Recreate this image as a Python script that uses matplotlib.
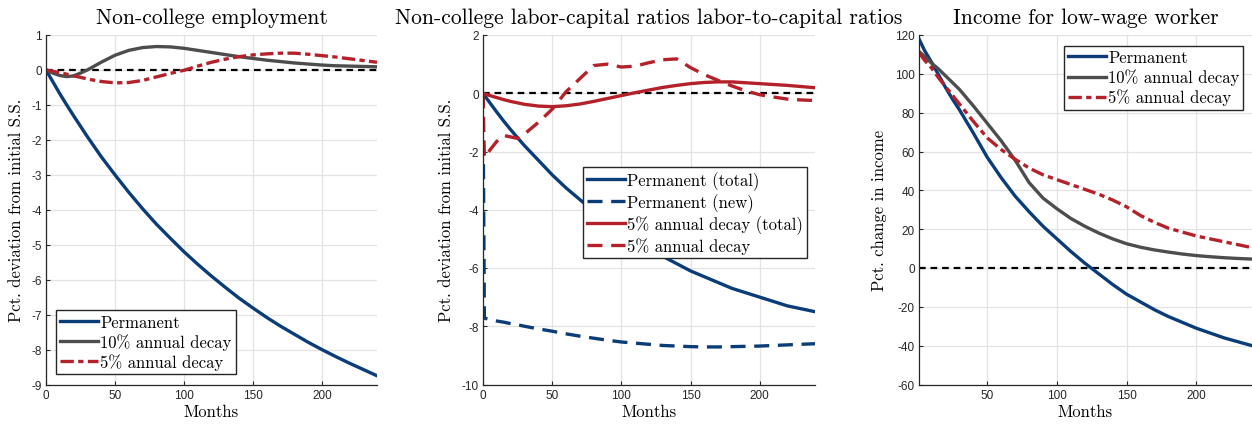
import matplotlib
matplotlib.use("Agg")
import matplotlib.pyplot as plt
import numpy as np

# ---------------- data ----------------
months = [0, 1, 5, 10, 15, 20, 25, 30, 40, 50, 60, 70, 80, 90, 100, 110, 120,
          130, 140, 150, 160, 170, 180, 190, 200, 210, 220, 230, 240]

# Panel 1: Non-college employment
emp_permanent = [0, -0.07, -0.34, -0.68, -1.0, -1.31, -1.61, -1.91, -2.48, -3.0, -3.5,
                 -3.97, -4.41, -4.81, -5.2, -5.56, -5.9, -6.22, -6.53, -6.81, -7.08,
                 -7.33, -7.56, -7.79, -8.0, -8.2, -8.39, -8.57, -8.75]
emp_decay10 = [0, -0.02, -0.09, -0.16, -0.19, -0.17, -0.09, 0.0, 0.22, 0.42, 0.56,
               0.64, 0.67, 0.66, 0.62, 0.56, 0.5, 0.44, 0.38, 0.33, 0.28, 0.24,
               0.2, 0.17, 0.14, 0.12, 0.11, 0.1, 0.09]
emp_decay5 = [0, -0.01, -0.04, -0.08, -0.12, -0.17, -0.21, -0.26, -0.33, -0.37, -0.36,
              -0.3, -0.2, -0.1, -0.01, 0.11, 0.22, 0.31, 0.38, 0.43, 0.46, 0.48,
              0.48, 0.45, 0.41, 0.37, 0.32, 0.27, 0.22]

# Panel 2: labor-capital ratios
lk_perm_total = [0, -0.07, -0.33, -0.65, -0.96, -1.25, -1.53, -1.8, -2.3, -2.8, -3.25,
                 -3.65, -4.05, -4.4, -4.75, -5.05, -5.35, -5.6, -5.85, -6.1, -6.3,
                 -6.5, -6.7, -6.85, -7.0, -7.15, -7.3, -7.4, -7.5]
lk_perm_new = [0, -7.72, -7.77, -7.82, -7.86, -7.91, -7.95, -8.0, -8.09, -8.17, -8.26,
               -8.34, -8.41, -8.48, -8.54, -8.58, -8.62, -8.66, -8.68, -8.7, -8.71,
               -8.71, -8.7, -8.69, -8.68, -8.66, -8.64, -8.62, -8.6]
lk_decay5_total = [0, -0.02, -0.08, -0.15, -0.22, -0.28, -0.33, -0.38, -0.44, -0.46,
                   -0.43, -0.37, -0.28, -0.18, -0.08, 0.02, 0.11, 0.2, 0.27, 0.33,
                   0.37, 0.39, 0.39, 0.36, 0.33, 0.3, 0.27, 0.23, 0.19]
lk_decay5_new = [0, -2.2, -1.95, -1.65, -1.45, -1.5, -1.55, -1.4, -1.0, -0.55, 0.05,
                 0.5, 0.95, 1.0, 0.9, 0.93, 1.05, 1.15, 1.18, 0.88, 0.64, 0.44,
                 0.25, 0.08, -0.05, -0.13, -0.2, -0.23, -0.25]

# Panel 3: income for low-wage worker (starts at month 1)
inc_permanent = [np.nan, 118, 112, 106, 99.5, 93, 87, 81.5, 69.5, 57, 46.5, 37, 29,
                 21.5, 15, 8.5, 2.5, -3, -8.5, -13.5, -17.5, -21.5, -25, -28, -31,
                 -33.5, -36, -38, -40]
inc_decay10 = [np.nan, 111.5, 109, 105.5, 102.5, 99, 95.5, 92, 83.5, 74.5, 65.5, 55.5,
               44, 36, 30.5, 25.5, 21.5, 18, 15, 12.5, 10.7, 9.3, 8.2, 7.2, 6.4, 5.8,
               5.3, 4.9, 4.6]
inc_decay5 = [np.nan, 111, 107, 103, 98, 93.5, 89, 84.5, 75.5, 67, 61, 56, 51.5, 48,
              45.5, 43, 40.5, 38, 35, 31.5, 27, 23.5, 20.5, 18.5, 16.5, 15, 13.5, 12,
              10.5]

titles = ["Non-college employment",
          "Non-college labor-capital ratios labor-to-capital ratios",
          "Income for low-wage worker"]

# ---------------- style ----------------
plt.rcParams['font.family'] = ['Liberation Sans', 'DejaVu Sans']
plt.rcParams['axes.unicode_minus'] = False
SERIF = 'cmr10'
BLUE = '#0a3d78'
GRAY = '#4d4d4d'
RED = '#b5212a'
LW = 2.4
dashdot = (0, (4.0, 1.3, 1.6, 1.3))
longdash = (0, (4.5, 2.6))

fig = plt.figure(figsize=(12.52, 4.27), dpi=100)
H = 427.0
W = 1252.0
def add_ax(x0, x1, y0=36, y1=385.5):
    return fig.add_axes([x0 / W, 1 - y1 / H, (x1 - x0) / W, (y1 - y0) / H])

ax1 = add_ax(46, 377)
ax2 = add_ax(483, 815)
ax3 = add_ax(919, 1252)

def style(ax):
    for s in ['top', 'right']:
        ax.spines[s].set_visible(False)
    for s in ['left', 'bottom']:
        ax.spines[s].set_color('#262626')
        ax.spines[s].set_linewidth(0.9)
    ax.grid(True, color='#e3e3e3', linewidth=0.9)
    ax.set_axisbelow(True)
    ax.tick_params(direction='in', length=3, width=0.8, labelsize=8.5,
                   colors='#262626', pad=3)

leg_kw = dict(prop={'family': SERIF, 'size': 12}, fancybox=False, framealpha=1,
              edgecolor='#262626', borderaxespad=0, handlelength=2.3,
              handletextpad=0.1, labelspacing=0.2, borderpad=0.25)

# Panel 1
m = np.array(months)
ax1.axhline(0, color='black', linestyle=(0, (3, 2.2)), linewidth=1.6, zorder=1)
ax1.plot(m, emp_permanent, color=BLUE, lw=LW, label='Permanent')
ax1.plot(m, emp_decay10, color=GRAY, lw=LW, label='10% annual decay')
ax1.plot(m, emp_decay5, color=RED, lw=LW, linestyle=dashdot, label='5% annual decay')
ax1.set_xlim(0, 240)
ax1.set_ylim(-9, 1)
ax1.set_xticks([0, 50, 100, 150, 200])
ax1.set_yticks(range(-9, 2))
style(ax1)
leg = ax1.legend(loc='upper left', bbox_to_anchor=(0.03, 0.213), **leg_kw)
leg.get_frame().set_linewidth(1.0)

# Panel 2
ax2.axhline(0, color='black', linestyle=(0, (3, 2.2)), linewidth=1.6, zorder=1)
ax2.plot(m, lk_perm_total, color=BLUE, lw=LW, label='Permanent (total)')
ax2.plot(m, lk_perm_new, color=BLUE, lw=LW, linestyle=longdash, label='Permanent (new)')
ax2.plot(m, lk_decay5_total, color=RED, lw=LW, label='5% annual decay (total)')
ax2.plot(m, lk_decay5_new, color=RED, lw=LW, linestyle=longdash, label='5% annual decay')
ax2.set_xlim(0, 240)
ax2.set_ylim(-10, 2)
ax2.set_xticks([0, 50, 100, 150, 200])
ax2.set_yticks(range(-10, 3, 2))
style(ax2)
leg = ax2.legend(loc='upper left', bbox_to_anchor=(0.300, 0.623), **leg_kw)
leg.get_frame().set_linewidth(1.0)

# Panel 3
ax3.axhline(0, color='black', linestyle=(0, (3, 2.2)), linewidth=1.6, zorder=1)
ax3.plot(m, inc_permanent, color=BLUE, lw=LW, label='Permanent')
ax3.plot(m, inc_decay10, color=GRAY, lw=LW, label='10% annual decay')
ax3.plot(m, inc_decay5, color=RED, lw=LW, linestyle=dashdot, label='5% annual decay')
ax3.set_xlim(1, 240)
ax3.set_ylim(-60, 120)
ax3.set_xticks([50, 100, 150, 200])
ax3.set_yticks(range(-60, 121, 20))
style(ax3)
leg = ax3.legend(loc='upper left', bbox_to_anchor=(0.435, 0.969), **leg_kw)
leg.get_frame().set_linewidth(1.0)

for ax, t in zip([ax1, ax2, ax3], titles):
    ax.set_title(t, family=SERIF, fontsize=15.5, pad=9)
    ax.set_xlabel('Months', family=SERIF, fontsize=12, labelpad=2.5)

ax1.set_ylabel('Pct. deviation from initial S.S.', family=SERIF, fontsize=12, labelpad=5.5)
ax2.set_ylabel('Pct. deviation from initial S.S.', family=SERIF, fontsize=12, labelpad=5.5)
ax3.set_ylabel('Pct. change in income', family=SERIF, fontsize=12, labelpad=6)

fig.savefig('out.png', dpi=100)
